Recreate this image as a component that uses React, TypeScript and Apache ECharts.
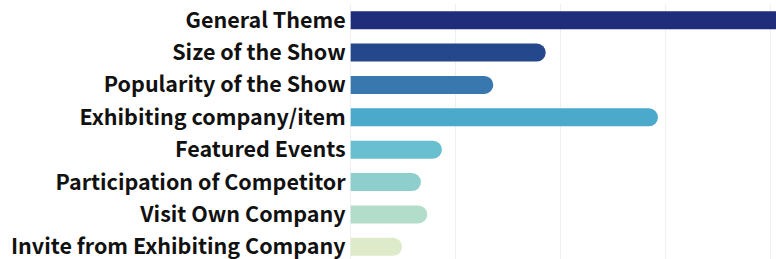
import React, { useEffect, useRef } from "react";
import * as echarts from "echarts";

const categories = [
  "General Theme",
  "Size of the Show",
  "Popularity of the Show",
  "Exhibiting company/item",
  "Featured Events",
  "Participation of Competitor",
  "Visit Own Company",
  "Invite from Exhibiting Company",
];
const values = [45, 18.6, 13.6, 29.3, 8.7, 6.7, 7.3, 4.9];
const colors = [
  "#1f2d7b",
  "#25478c",
  "#3878ae",
  "#4ba9cc",
  "#68bfd0",
  "#8ecfcd",
  "#b2ddcb",
  "#ddebca",
];

export default function App() {
  const ref = useRef<HTMLDivElement>(null);
  useEffect(() => {
    if (!ref.current) return;
    const chart = echarts.init(ref.current, undefined, { renderer: "svg" });
    chart.setOption({
      animation: false,
      grid: { left: 350.7, right: 0, top: 4, bottom: 0, containLabel: false },
      xAxis: {
        type: "value",
        min: 0,
        max: 50,
        interval: 10,
        axisLabel: { show: false },
        axisLine: { show: false },
        axisTick: { show: false },
        splitLine: { show: true, lineStyle: { color: "#efefef", width: 1 } },
      },
      yAxis: {
        type: "category",
        data: categories,
        inverse: true,
        axisLine: { show: false },
        axisTick: { show: false },
        axisLabel: {
          margin: 5,
          formatter: "{a|{value}}",
          rich: {
            a: {
              color: "#111",
              fontFamily: "Noto Sans CJK JP",
              fontWeight: "bold",
              fontSize: 21.5,
              padding: [0, 0, 4, 0],
            },
          },
        },
      },
      series: [
        {
          type: "bar",
          barWidth: 18,
          data: values.map((v, i) => ({
            value: v,
            itemStyle: { color: colors[i], borderRadius: [0, 9, 9, 0] },
          })),
        },
      ],
    });
    return () => chart.dispose();
  }, []);
  return (
    <div
      style={{
        position: "fixed",
        left: 0,
        top: 0,
        width: 776,
        height: 259,
        overflow: "hidden",
        background: "#fff",
      }}
    >
      <div ref={ref} style={{ width: 875, height: 263 }} />
    </div>
  );
}
